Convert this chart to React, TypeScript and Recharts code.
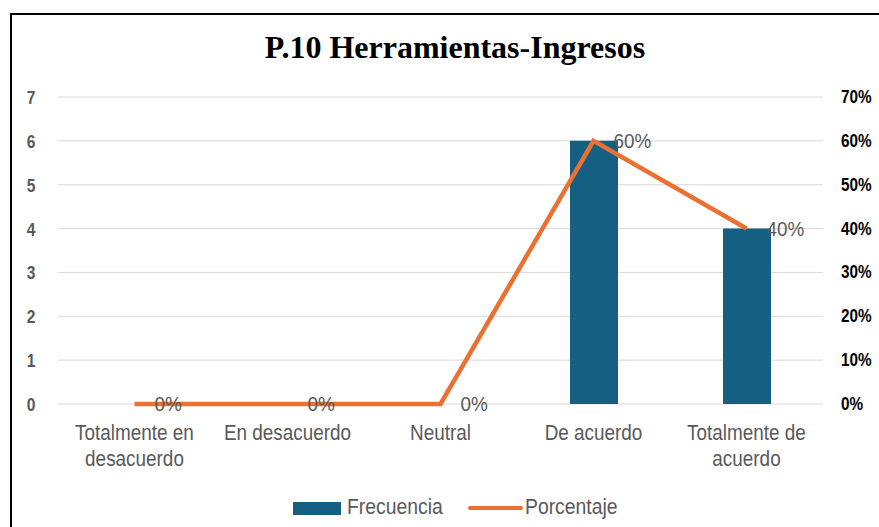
import { ComposedChart, Bar, Line, XAxis, YAxis, CartesianGrid, LabelList } from "recharts";

const categories = [
  "Totalmente en desacuerdo",
  "En desacuerdo",
  "Neutral",
  "De acuerdo",
  "Totalmente de acuerdo",
];
const frecuencia = [0, 0, 0, 6, 4];
const porcentaje = [0, 0, 0, 0.6, 0.4];
const leftTicks = [0, 1, 2, 3, 4, 5, 6, 7];
const rightTicks = [0, 0.1, 0.2, 0.3, 0.4, 0.5, 0.6, 0.7];

// category labels wrapped as in the original
const categoryLines: Record<string, string[]> = {
  "Totalmente en desacuerdo": ["Totalmente en", "desacuerdo"],
  "En desacuerdo": ["En desacuerdo"],
  Neutral: ["Neutral"],
  "De acuerdo": ["De acuerdo"],
  "Totalmente de acuerdo": ["Totalmente de", "acuerdo"],
};

const data = categories.map((name, i) => ({
  name,
  frecuencia: frecuencia[i],
  porcentaje: porcentaje[i],
}));

const BAR_COLOR = "#156082";
const LINE_COLOR = "#E97132";
const TEXT_GRAY = "#595959";
const SANS = "'Liberation Sans', Arial, sans-serif";

const pct = (v: number) => `${Math.round(v * 100)}%`;

// narrow text: regular font squeezed horizontally
function NarrowText({ x, y, sx, anchor, size, fill, bold, children }: any) {
  return (
    <g transform={`translate(${x},${y}) scale(${sx},1)`}>
      <text
        x={0}
        y={0}
        textAnchor={anchor}
        fontSize={size}
        fill={fill}
        fontWeight={bold ? "bold" : "normal"}
        fontFamily={SANS}
      >
        {children}
      </text>
    </g>
  );
}

function CategoryTick(props: any) {
  const { x, payload } = props;
  const lines = categoryLines[payload.value] ?? [payload.value];
  return (
    <g>
      {lines.map((l, i) => (
        <NarrowText key={i} x={x} y={440 + i * 26} sx={0.86} anchor="middle" size={22} fill={TEXT_GRAY}>
          {l}
        </NarrowText>
      ))}
    </g>
  );
}

function LeftTick(props: any) {
  const { y, payload } = props;
  return (
    <NarrowText x={31} y={y + 7} sx={0.82} anchor="middle" size={19} fill={TEXT_GRAY} bold>
      {payload.value}
    </NarrowText>
  );
}

function RightTick(props: any) {
  const { y, payload } = props;
  return (
    <NarrowText x={841} y={y + 6} sx={0.85} anchor="start" size={18} fill="#000" bold>
      {pct(payload.value)}
    </NarrowText>
  );
}

function PctLabel(props: any) {
  const { x, y, value } = props;
  return (
    <NarrowText x={x + 20} y={y + 7} sx={0.9} anchor="start" size={21} fill={TEXT_GRAY}>
      {pct(Number(value))}
    </NarrowText>
  );
}

export default function App() {
  return (
    <div style={{ position: "absolute", left: 0, top: 0, width: 879, height: 527, background: "#fff", overflow: "hidden" }}>
      <ComposedChart
        width={879}
        height={527}
        data={data}
        margin={{ top: 97, right: 0, left: 0, bottom: 113 }}
        style={{ position: "absolute", left: 0, top: 0 }}
      >
        <CartesianGrid vertical={false} stroke="#d9d9d9" strokeWidth={1} yAxisId="left" />
        <XAxis dataKey="name" axisLine={false} tickLine={false} tick={<CategoryTick />} interval={0} height={10} />
        <YAxis
          yAxisId="left"
          domain={[0, 7]}
          ticks={leftTicks}
          width={58}
          axisLine={false}
          tickLine={false}
          tick={<LeftTick />}
          interval={0}
        />
        <YAxis
          yAxisId="right"
          orientation="right"
          domain={[0, 0.7]}
          ticks={rightTicks}
          width={56}
          axisLine={false}
          tickLine={false}
          tick={<RightTick />}
          interval={0}
        />
        <Bar yAxisId="left" dataKey="frecuencia" fill={BAR_COLOR} barSize={48} isAnimationActive={false} />
        <Line
          yAxisId="right"
          dataKey="porcentaje"
          stroke={LINE_COLOR}
          strokeWidth={4.5}
          dot={false}
          isAnimationActive={false}
        >
          <LabelList dataKey="porcentaje" content={<PctLabel />} />
        </Line>
      </ComposedChart>
      {/* frame, title and legend */}
      <svg width={879} height={527} style={{ position: "absolute", left: 0, top: 0, pointerEvents: "none" }}>
        <path d="M11 527 L11 14 L879 14" fill="none" stroke="#000" strokeWidth={2} />
        <text
          x={455}
          y={58}
          textAnchor="middle"
          fontFamily="'Liberation Serif', 'Times New Roman', serif"
          fontWeight="bold"
          fontSize={32}
          fill="#000"
        >
          P.10 Herramientas-Ingresos
        </text>
        <rect x={293} y={502} width={48} height={13} fill={BAR_COLOR} />
        <NarrowText x={347} y={514} sx={0.88} anchor="start" size={22} fill={TEXT_GRAY}>
          Frecuencia
        </NarrowText>
        <line x1={470} y1={508} x2={521} y2={508} stroke={LINE_COLOR} strokeWidth={4} strokeLinecap="round" />
        <NarrowText x={525} y={514} sx={0.88} anchor="start" size={22} fill={TEXT_GRAY}>
          Porcentaje
        </NarrowText>
      </svg>
    </div>
  );
}
